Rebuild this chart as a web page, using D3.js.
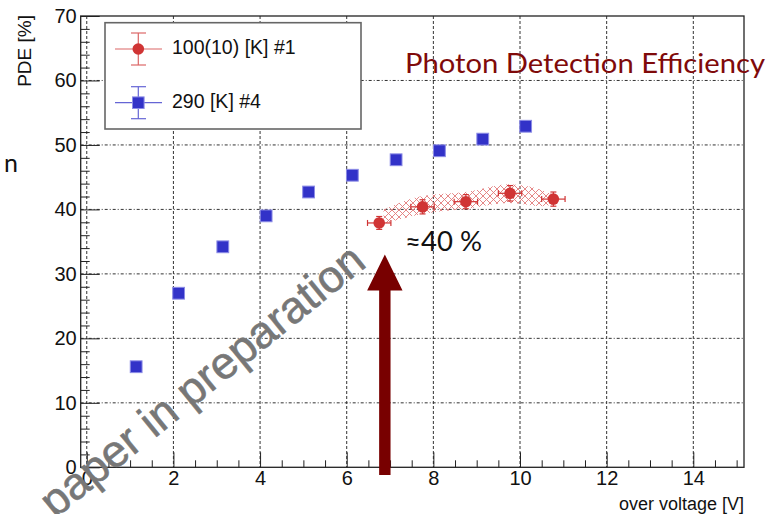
<!DOCTYPE html>
<html>
<head>
<meta charset="utf-8">
<script src="https://cdn.jsdelivr.net/npm/d3@7"></script>
<style>
  body { margin: 0; background: #fff; }
  svg { display: block; }
</style>
</head>
<body>
<div id="chart"></div>
<script>
// 290 K, sample #4
const blueX = [1.14, 2.12, 3.14, 4.14, 5.12, 6.13, 7.14, 8.14, 9.14, 10.13];
const blueY = [15.6, 27.0, 34.2, 39.0, 42.7, 45.3, 47.7, 49.1, 50.9, 52.9];
// 100(10) K, sample #1
const redX = [6.75, 7.75, 8.75, 9.77, 10.77];
const redY = [37.9, 40.4, 41.2, 42.5, 41.6];
const redXErr = [0.27, 0.27, 0.27, 0.27, 0.27];
const redYErr = [1.0, 1.1, 1.1, 1.2, 1.1];
// hatched uncertainty band
const bandX = [6.85, 7.75, 8.75, 9.75, 10.5, 10.85];
const bandHi = [40.0, 42.1, 42.7, 43.9, 43.0, 42.0];
const bandLo = [37.8, 39.3, 40.1, 41.0, 40.5, 41.0];

const xMajor = [0, 2, 4, 6, 8, 10, 12, 14];
const yMajor = [0, 10, 20, 30, 40, 50, 60, 70];
const legendLabels = ['100(10) [K] #1', '290 [K] #4'];

const W = 769, H = 514;
const rootFont = '"Liberation Sans", Arial, Helvetica, sans-serif';
const svg = d3.select('#chart').append('svg').attr('width', W).attr('height', H)
  .attr('font-family', rootFont);

const x = d3.scaleLinear().domain([-0.14, 15.17]).range([80.7, 744]);
const y = d3.scaleLinear().domain([0, 70]).range([467.3, 16]);
const pL = x.range()[0], pR = x.range()[1], pT = y.range()[1], pB = y.range()[0];

const defs = svg.append('defs');
const pat = defs.append('pattern').attr('id', 'hatch').attr('patternUnits', 'userSpaceOnUse')
  .attr('width', 7).attr('height', 7);
pat.append('path').attr('d', 'M0,0L7,7M7,0L0,7M-1,6L1,8M6,-1L8,1')
  .attr('stroke', '#e27a7a').attr('stroke-width', 0.9).attr('fill', 'none');

// grid
const grid = svg.append('g');
grid.selectAll('.gx').data(xMajor).join('line')
  .attr('x1', d => x(d)).attr('x2', d => x(d)).attr('y1', pT).attr('y2', pB)
  .attr('stroke', '#333').attr('stroke-width', 1).attr('stroke-dasharray', '3,2');
grid.selectAll('.gy').data(yMajor.filter(d => d > 0 && d < 70)).join('line')
  .attr('x1', pL).attr('x2', pR).attr('y1', d => y(d)).attr('y2', d => y(d))
  .attr('stroke', '#333').attr('stroke-width', 1).attr('stroke-dasharray', '3,2,1,2');

// axes
const minorX = d3.range(0, 15.01, 0.5).filter(v => v % 2 !== 0);
const minorY = d3.range(0, 70.01, 2).filter(v => v % 10 !== 0);

svg.append('g').attr('transform', `translate(0,${pB})`)
  .call(d3.axisBottom(x).tickValues(xMajor).tickSize(-15).tickPadding(4).tickFormat(d3.format('d')));
svg.append('g').attr('transform', `translate(0,${pB})`)
  .call(d3.axisBottom(x).tickValues(minorX).tickSize(-7).tickFormat(''));
svg.append('g').attr('transform', `translate(${pL},0)`)
  .call(d3.axisLeft(y).tickValues(yMajor).tickSize(-19).tickPadding(4));
svg.append('g').attr('transform', `translate(${pL},0)`)
  .call(d3.axisLeft(y).tickValues(minorY).tickSize(-9).tickFormat(''));
svg.selectAll('.domain').remove();
svg.selectAll('g').filter(function() { return this.hasAttribute('font-family'); })
  .attr('font-family', rootFont).attr('font-size', 20);
svg.selectAll('.tick line').attr('stroke', '#222');
svg.selectAll('.tick text').attr('font-size', 20).attr('fill', '#111');

svg.append('rect').attr('x', pL).attr('y', pT).attr('width', pR - pL).attr('height', pB - pT)
  .attr('fill', 'none').attr('stroke', '#222').attr('stroke-width', 1.3);

svg.append('text').attr('x', pR).attr('y', 510).attr('text-anchor', 'end')
  .attr('font-size', 18).attr('fill', '#111').text('over voltage [V]');
svg.append('text').attr('transform', 'translate(31,15) rotate(-90)').attr('text-anchor', 'end')
  .attr('font-size', 19).attr('fill', '#111').text('PDE [%]');

// watermark
svg.append('text').attr('transform', 'translate(55,519) rotate(-39)')
  .attr('font-family', rootFont).attr('font-size', 45).attr('fill', '#777')
  .attr('stroke', '#777').attr('stroke-width', 0.6).text('paper in preparation');

// band
const area = d3.area().x((d, i) => x(bandX[i])).y0((d, i) => y(bandLo[i])).y1((d, i) => y(bandHi[i]))
  .curve(d3.curveMonotoneX);
svg.append('path').datum(bandX).attr('d', area).attr('fill', 'url(#hatch)');

// blue squares
svg.selectAll('.sq').data(blueX).join('rect')
  .attr('x', d => x(d) - 5.9).attr('y', (d, i) => y(blueY[i]) - 5.9)
  .attr('width', 11.8).attr('height', 11.8)
  .attr('fill', '#3232c8').attr('stroke', '#8c8ce6').attr('stroke-width', 1);

// red points with error bars
const rc = '#d03434';
const eb = svg.append('g').attr('stroke', rc).attr('stroke-width', 1.2);
redX.forEach((xv, i) => {
  const cx = x(xv), cy = y(redY[i]);
  const x0 = x(xv - redXErr[i]), x1 = x(xv + redXErr[i]);
  const y0 = y(redY[i] - redYErr[i]), y1 = y(redY[i] + redYErr[i]);
  eb.append('line').attr('x1', x0).attr('x2', x1).attr('y1', cy).attr('y2', cy);
  eb.append('line').attr('x1', x0).attr('x2', x0).attr('y1', cy - 3).attr('y2', cy + 3);
  eb.append('line').attr('x1', x1).attr('x2', x1).attr('y1', cy - 3).attr('y2', cy + 3);
  eb.append('line').attr('x1', cx).attr('x2', cx).attr('y1', y0).attr('y2', y1);
  eb.append('line').attr('x1', cx - 3).attr('x2', cx + 3).attr('y1', y0).attr('y2', y0);
  eb.append('line').attr('x1', cx - 3).attr('x2', cx + 3).attr('y1', y1).attr('y2', y1);
});
svg.selectAll('.dot').data(redX).join('circle')
  .attr('cx', d => x(d)).attr('cy', (d, i) => y(redY[i])).attr('r', 5.8).attr('fill', rc);

// legend
const lg = svg.append('g');
lg.append('rect').attr('x', 105).attr('y', 22.7).attr('width', 256).attr('height', 106.3)
  .attr('fill', '#fff').attr('stroke', '#666').attr('stroke-width', 1.6);
const ly = [49, 102.7];
legendLabels.forEach((lab, i) => {
  const c = i === 0 ? rc : '#3232c8';
  const g = lg.append('g').attr('stroke', c).attr('stroke-width', 1.2).attr('opacity', 0.75);
  g.append('line').attr('x1', 115).attr('x2', 162).attr('y1', ly[i]).attr('y2', ly[i]);
  g.append('line').attr('x1', 138.3).attr('x2', 138.3).attr('y1', ly[i] - 16).attr('y2', ly[i] + 16);
  g.append('line').attr('x1', 131).attr('x2', 146).attr('y1', ly[i] - 16).attr('y2', ly[i] - 16);
  g.append('line').attr('x1', 131).attr('x2', 146).attr('y1', ly[i] + 16).attr('y2', ly[i] + 16);
  if (i === 0) lg.append('circle').attr('cx', 138.3).attr('cy', ly[i]).attr('r', 5.8).attr('fill', rc);
  else lg.append('rect').attr('x', 132.5).attr('y', ly[i] - 5.8).attr('width', 11.6).attr('height', 11.6)
    .attr('fill', '#3232c8').attr('stroke', '#8c8ce6');
  lg.append('text').attr('x', 172).attr('y', ly[i] + 5).attr('font-size', 19.5)
    .attr('fill', '#111').text(lab);
});

// arrow annotation
const arrowX = 6.88, arrowFrom = -1.2, arrowTo = 33.0;
const ax = x(arrowX), ayB = y(arrowFrom), ayT = y(arrowTo);
const p = d3.path();
p.moveTo(ax - 5.7, ayB); p.lineTo(ax - 5.7, ayT + 36); p.lineTo(ax - 17.7, ayT + 36);
p.lineTo(ax, ayT); p.lineTo(ax + 17.7, ayT + 36); p.lineTo(ax + 5.7, ayT + 36);
p.lineTo(ax + 5.7, ayB); p.closePath();
svg.append('path').attr('d', p.toString()).attr('fill', '#780000');

// slide texts
const slideFont = 'Lato, "Open Sans", sans-serif';
svg.append('text').attr('x', 405).attr('y', 73).attr('font-family', slideFont).attr('font-size', 27)
  .attr('fill', '#7f0a0a').attr('textLength', 360).attr('lengthAdjust', 'spacingAndGlyphs')
  .text('Photon Detection Efficiency');
svg.append('text').attr('x', 405).attr('y', 251).attr('font-family', slideFont).attr('font-size', 26)
  .attr('fill', '#111').attr('textLength', 77).attr('lengthAdjust', 'spacingAndGlyphs').text('≈40 %');
svg.append('text').attr('x', 4).attr('y', 172).attr('font-family', slideFont).attr('font-size', 25)
  .attr('fill', '#111').text('n');
</script>
</body>
</html>
